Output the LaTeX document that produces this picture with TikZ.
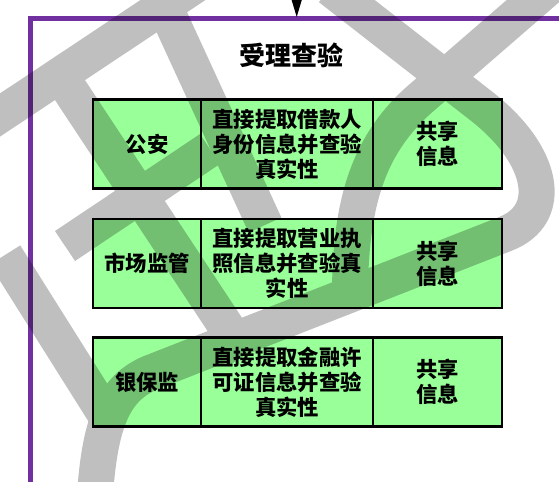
\documentclass[tikz,border=0pt]{standalone}
\usepackage{fontspec}
\setmainfont{Noto Sans CJK SC}
\usetikzlibrary{arrows.meta}
\definecolor{framepurple}{RGB}{112,48,160}
\definecolor{cellgreen}{RGB}{153,255,153}
\begin{document}
\begin{tikzpicture}[x=0.75pt,y=-0.75pt,
  cellbox/.style={draw=black, line width=2pt, fill=cellgreen, inner sep=0pt,
    minimum height=66.75pt, align=center,
    font=\bfseries\fontsize{16}{18.75}\selectfont},
  titletext/.style={font=\bfseries\fontsize{19.5}{22}\selectfont, inner sep=0pt},
  frameline/.style={draw=framepurple, line width=3.75pt},
  wmband/.style={line width=27pt, draw=black, line join=round}]
\useasboundingbox[fill=white] (0,0) rectangle (559,481);

% frame
\coordinate (fbot) at (30.8,495);
\coordinate (fcorner) at (30.8,19);
\coordinate (fright) at (575,19);
\draw[frameline] (fbot) -- (fcorner) -- (fright);

% incoming arrow
\coordinate (arrfrom) at (296.7,-30);
\coordinate (arrto) at (296.7,17);
\draw[line width=1pt, -{Triangle[length=13pt,width=7.5pt]}] (arrfrom) -- (arrto);

% title
\node[titletext] (title) at (291.5,55.5) {受理查验};

% row 1
\node[cellbox, minimum width=81pt] (a1) at (147,144) {公安};
\node[cellbox, minimum width=129pt] (b1) at (287,144) {直接提取借款人\\身份信息并查验\\真实性};
\node[cellbox, minimum width=96.75pt] (c1) at (437.5,144) {共享\\信息};
% row 2
\node[cellbox, minimum width=81pt] (a2) at (147,263.5) {市场监管};
\node[cellbox, minimum width=129pt] (b2) at (287,263.5) {直接提取营业执\\照信息并查验真\\实性};
\node[cellbox, minimum width=96.75pt] (c2) at (437.5,263.5) {共享\\信息};
% row 3
\node[cellbox, minimum width=81pt] (a3) at (147,382) {银保监};
\node[cellbox, minimum width=129pt] (b3) at (287,382) {直接提取金融许\\可证信息并查验\\真实性};
\node[cellbox, minimum width=96.75pt] (c3) at (437.5,382) {共享\\信息};

% watermark
\begin{scope}[transparency group, opacity=0.25]
\draw[wmband] (203,-20) -- (-12,123);
\draw[wmband] (60,75) -- (245,355);
\draw[wmband] (65,246) -- (210,149);
\draw[wmband] (157,-10) -- (265,225);
\draw[wmband] (330,-12) -- (480,105) .. controls (545,155) and (555,215) .. (505,234) -- (150,373) .. controls (115,388) and (100,420) .. (95,495);
\draw[wmband] (548,-12) -- (420,99) .. controls (370,143) and (350,200) .. (350,295);
\draw[wmband] (5,255) -- (112,425);
\end{scope}
\end{tikzpicture}
\end{document}
